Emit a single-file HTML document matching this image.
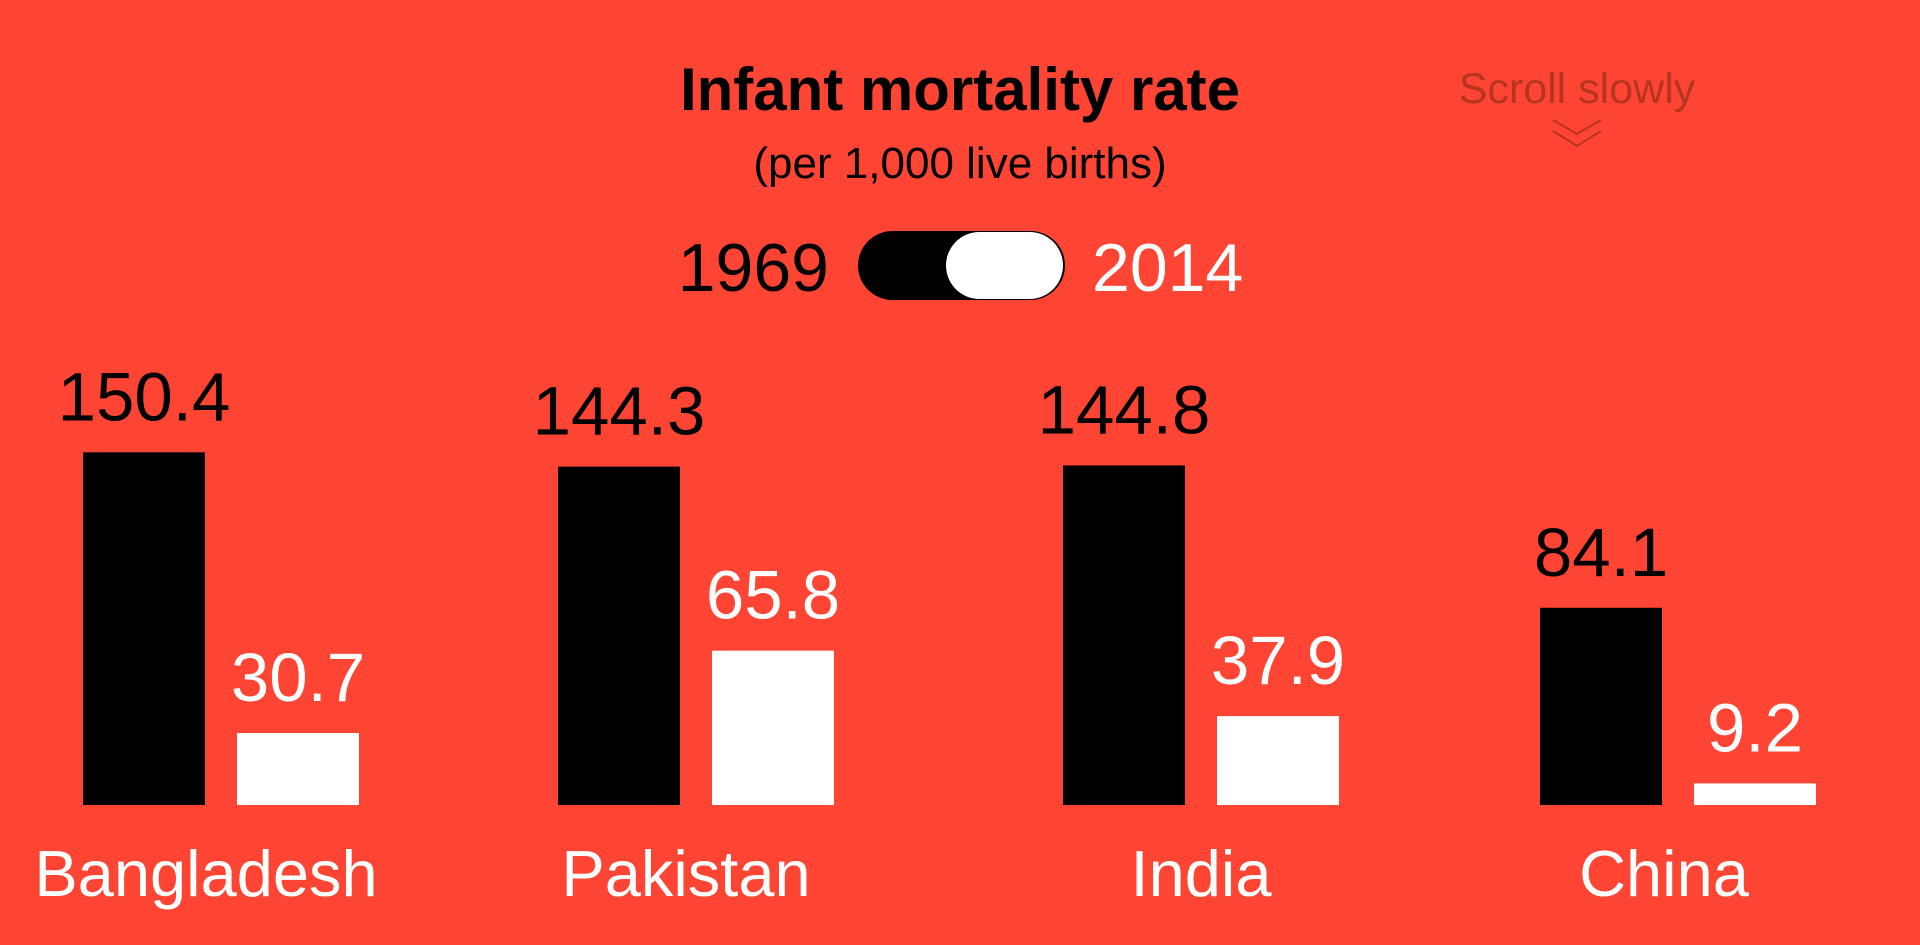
<!DOCTYPE html>
<html><head><meta charset="utf-8"><style>
html,body{margin:0;padding:0;background:#fe4534;width:1920px;height:945px;overflow:hidden}
svg{display:block}
text{font-family:"Liberation Sans",sans-serif}
</style></head><body>
<svg id="chart" width="1920" height="945">
<rect width="1920" height="945" fill="#fe4534"/>
<text x="960" y="110" text-anchor="middle" font-size="60" font-weight="bold" fill="#000">Infant mortality rate</text>
<text x="960" y="178" text-anchor="middle" font-size="44" fill="#000">(per 1,000 live births)</text>
<text x="1577" y="103" text-anchor="middle" font-size="43" fill="#b8341f">Scroll slowly</text>
<g fill="none" stroke="#b8341f" stroke-width="2">
<polyline points="1553,120 1577,134 1601,120"/><polyline points="1553,131 1577,146 1601,131"/></g>
<text x="829" y="291" text-anchor="end" font-size="68" fill="#000">1969</text>
<g>
<rect x="858" y="231" width="207" height="69" rx="34.5" fill="#000"/>
<rect x="946" y="232" width="117" height="67" rx="33.5" fill="#fff"/>
</g>
<text x="1092" y="291" font-size="68" fill="#fff">2014</text>
<g id="bars"></g>
</svg>
<script>
const countries = ["Bangladesh","Pakistan","India","China"];
const values1969 = [150.4,144.3,144.8,84.1];
const values2014 = [30.7,65.8,37.9,9.2];
const labels1969 = ["150.4","144.3","144.8","84.1"];
const labels2014 = ["30.7","65.8","37.9","9.2"];

const baseline = 805, pxPerUnit = 2.345, barW = 122;
const groupX = [83,558,1063,1540];
const labelShift = [-15,-10,0,-14];
const gap = 154;
function y(v){return baseline - v*pxPerUnit;}
const g = document.getElementById('bars');
const NS = "http://www.w3.org/2000/svg";
function mk(tag, attrs){const e=document.createElementNS(NS,tag);for(const k in attrs)e.setAttribute(k,attrs[k]);return e;}
countries.forEach((c,i)=>{
  const x0 = groupX[i], x1 = x0+gap;
  const b1 = mk('rect',{x:x0,y:y(values1969[i]),width:barW,height:values1969[i]*pxPerUnit,fill:'#000'});
  
  
  g.appendChild(b1);
  const b2 = mk('rect',{x:x1,y:y(values2014[i]),width:barW,height:values2014[i]*pxPerUnit,fill:'#fff'});
  
  
  g.appendChild(b2);
  const t1 = mk('text',{x:x0+barW/2,y:y(values1969[i])-32,'text-anchor':'middle','font-size':69,fill:'#000'});
  t1.textContent = labels1969[i];
  
  
  g.appendChild(t1);
  const t2 = mk('text',{x:x1+barW/2,y:y(values2014[i])-32,'text-anchor':'middle','font-size':69,fill:'#fff'});
  t2.textContent = labels2014[i];
  
  
  g.appendChild(t2);
  const cl = mk('text',{x:(x0+x1+barW)/2+labelShift[i],y:896,'text-anchor':'middle','font-size':65,fill:'#fff'});
  cl.textContent = c;
  
  
  g.appendChild(cl);
});
</script>
</body></html>
